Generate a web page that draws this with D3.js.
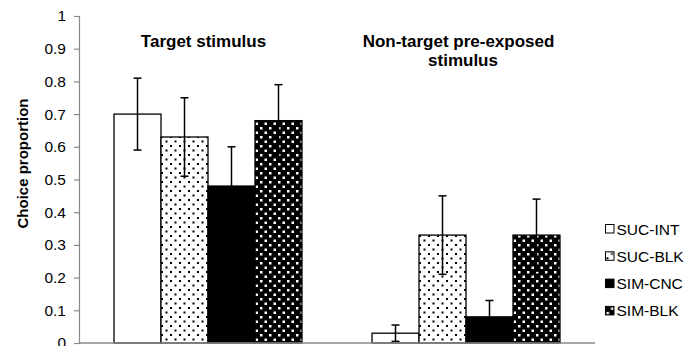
<!DOCTYPE html>
<html>
<head>
<meta charset="utf-8">
<script src="https://cdnjs.cloudflare.com/ajax/libs/d3/7.8.5/d3.min.js"></script>
<style>
  body { margin: 0; background: #fff; }
  svg { font-family: "Liberation Sans", Arial, sans-serif; }
</style>
</head>
<body>
<div id="chart"></div>
<script>
// data
var groups = ['Target stimulus', 'Non-target pre-exposed stimulus'];
var series = ['SUC-INT', 'SUC-BLK', 'SIM-CNC', 'SIM-BLK'];
var means = [
    [0.70, 0.63, 0.48, 0.68],
    [0.03, 0.33, 0.08, 0.33]
];
var errors = [
    [0.11, 0.12, 0.12, 0.11],
    [0.025, 0.12, 0.05, 0.11]
];
var yTicks = [0, 0.1, 0.2, 0.3, 0.4, 0.5, 0.6, 0.7, 0.8, 0.9, 1];

var W = 695, H = 346;
var margin = {top: 16, right: 100, bottom: 3, left: 79};

var svg = d3.select('#chart').append('svg')
    .attr('width', W)
    .attr('height', H);

// fill patterns
var defs = svg.append('defs');
var p1 = defs.append('pattern')
    .attr('id', 'dotsWhite')
    .attr('patternUnits', 'userSpaceOnUse')
    .attr('width', 9).attr('height', 9);
p1.append('rect').attr('width', 9).attr('height', 9).attr('fill', '#fff');
p1.append('rect').attr('x', 1).attr('y', 1).attr('width', 2).attr('height', 2).attr('fill', '#000');
p1.append('rect').attr('x', 5.5).attr('y', 5.5).attr('width', 2).attr('height', 2).attr('fill', '#000');

var p2 = defs.append('pattern')
    .attr('id', 'dotsBlack')
    .attr('patternUnits', 'userSpaceOnUse')
    .attr('width', 9).attr('height', 9);
p2.append('rect').attr('width', 9).attr('height', 9).attr('fill', '#000');
p2.append('rect').attr('x', 1).attr('y', 1).attr('width', 2.5).attr('height', 2.5).attr('fill', '#fff');
p2.append('rect').attr('x', 5.5).attr('y', 5.5).attr('width', 2.5).attr('height', 2.5).attr('fill', '#fff');

var fills = ['#fff', 'url(#dotsWhite)', '#000', 'url(#dotsBlack)'];

var x0 = d3.scaleBand()
    .domain(groups)
    .range([margin.left, W - margin.right]);

var x1 = d3.scaleBand()
    .domain(series)
    .range([0, x0.bandwidth()])
    .paddingOuter(0.745);

var y = d3.scaleLinear()
    .domain([0, 1])
    .range([H - margin.bottom, margin.top]);

// y axis
var yAxis = svg.append('g')
    .attr('transform', 'translate(' + margin.left + ',0)')
    .call(d3.axisLeft(y).tickValues(yTicks).tickSize(5).tickPadding(8)
        .tickFormat(function(d) { return d === 0 || d === 1 ? d : d3.format('.1f')(d); }));
yAxis.select('.domain').attr('stroke', '#888').attr('stroke-width', 1.2);
yAxis.selectAll('.tick line').attr('stroke', '#888').attr('stroke-width', 1.2);
yAxis.selectAll('.tick text').attr('fill', '#000').style('font-size', '15.5px');

svg.append('text')
    .attr('transform', 'translate(28,' + (y(0.5) - 16) + ') rotate(-90)')
    .attr('text-anchor', 'middle')
    .style('font-weight', 'bold')
    .style('font-size', '15px')
    .text('Choice proportion');

// bars
var g = svg.selectAll('.group')
    .data(groups)
    .enter().append('g')
    .attr('class', 'group')
    .attr('transform', function(d) { return 'translate(' + x0(d) + ',0)'; });

g.selectAll('rect')
    .data(function(d, i) { return series.map(function(s, j) { return {s: s, j: j, v: means[i][j], e: errors[i][j]}; }); })
    .enter().append('rect')
    .attr('x', function(d) { return x1(d.s); })
    .attr('width', x1.bandwidth())
    .attr('y', function(d) { return y(d.v); })
    .attr('height', function(d) { return y(0) - y(d.v); })
    .attr('fill', function(d) { return fills[d.j]; })
    .attr('stroke', '#000')
    .attr('stroke-width', 1.3);

// error bars
var eb = g.selectAll('.err')
    .data(function(d, i) { return series.map(function(s, j) { return {s: s, v: means[i][j], e: errors[i][j]}; }); })
    .enter().append('g')
    .attr('class', 'err')
    .attr('stroke', '#000')
    .attr('stroke-width', 1.5);

eb.append('line')
    .attr('x1', function(d) { return x1(d.s) + x1.bandwidth() / 2; })
    .attr('x2', function(d) { return x1(d.s) + x1.bandwidth() / 2; })
    .attr('y1', function(d) { return y(d.v + d.e); })
    .attr('y2', function(d) { return y(Math.max(0, d.v - d.e)); });
[1, -1].forEach(function(sign) {
    eb.append('line')
        .attr('x1', function(d) { return x1(d.s) + x1.bandwidth() / 2 - 4; })
        .attr('x2', function(d) { return x1(d.s) + x1.bandwidth() / 2 + 4; })
        .attr('y1', function(d) { return y(Math.max(0, d.v + sign * d.e)); })
        .attr('y2', function(d) { return y(Math.max(0, d.v + sign * d.e)); });
});

// x axis line
svg.append('line')
    .attr('x1', margin.left).attr('x2', W - margin.right)
    .attr('y1', y(0)).attr('y2', y(0))
    .attr('stroke', '#888')
    .attr('stroke-width', 1.5);

// group titles
var titleLines = [['Target stimulus'], ['Non-target pre-exposed', 'stimulus']];
var titleShift = [[-4.5], [-7.5, -3]];
g.append('text')
    .attr('text-anchor', 'middle')
    .style('font-weight', 'bold')
    .style('font-size', '17px')
    .each(function(d, i) {
        d3.select(this).selectAll('tspan')
            .data(titleLines[i])
            .enter().append('tspan')
            .attr('x', function(t, k) { return x0.bandwidth() / 2 + titleShift[i][k]; })
            .attr('y', function(t, k) { return 47 + k * 19; })
            .text(function(t) { return t; });
    });

// legend
var leg = svg.selectAll('.legend')
    .data(series)
    .enter().append('g')
    .attr('class', 'legend')
    .attr('transform', function(d, i) { return 'translate(605.5,' + (229 + i * 27.3) + ')'; });
leg.append('rect')
    .attr('x', 0).attr('y', -4.5)
    .attr('width', 8.5).attr('height', 8.5)
    .attr('fill', function(d, i) { return fills[i]; })
    .attr('stroke', '#000')
    .attr('stroke-width', 1);
leg.append('text')
    .attr('x', 11)
    .attr('dy', '0.36em')
    .style('font-size', '15.5px')
    .text(function(d) { return d; });
</script>
</body>
</html>
